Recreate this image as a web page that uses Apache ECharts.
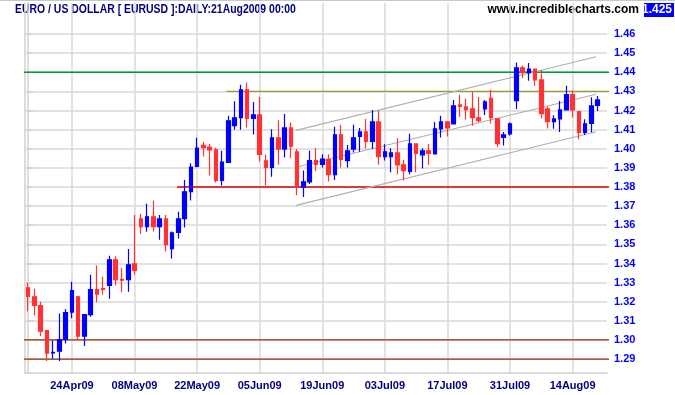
<!DOCTYPE html>
<html><head><meta charset="utf-8">
<script src="https://cdn.jsdelivr.net/npm/echarts@6/dist/echarts.min.js"></script>
<style>html,body{margin:0;padding:0;background:#fff}#c{width:675px;height:395px}</style>
</head><body><div id="c"></div>
<script>
// ---- data ----
const dates = [
 '15Apr09','16Apr09','17Apr09','20Apr09','21Apr09','22Apr09','23Apr09','24Apr09','27Apr09','28Apr09','29Apr09','30Apr09',
 '01May09','04May09','05May09','06May09','07May09','08May09','11May09','12May09','13May09','14May09','15May09','18May09','19May09','20May09','21May09','22May09','25May09','26May09','27May09','28May09','29May09',
 '01Jun09','02Jun09','03Jun09','04Jun09','05Jun09','08Jun09','09Jun09','10Jun09','11Jun09','12Jun09','15Jun09','16Jun09','17Jun09','18Jun09','19Jun09','22Jun09','23Jun09','24Jun09','25Jun09','26Jun09','29Jun09','30Jun09',
 '01Jul09','02Jul09','03Jul09','06Jul09','07Jul09','08Jul09','09Jul09','10Jul09','13Jul09','14Jul09','15Jul09','16Jul09','17Jul09','20Jul09','21Jul09','22Jul09','23Jul09','24Jul09','27Jul09','28Jul09','29Jul09','30Jul09','31Jul09',
 '03Aug09','04Aug09','05Aug09','06Aug09','07Aug09','10Aug09','11Aug09','12Aug09','13Aug09','14Aug09','17Aug09','18Aug09','19Aug09','20Aug09','21Aug09'
];
const opens = [
 1.3273,1.3226,1.3180,1.3049,1.2932,1.2942,1.3004,1.3145,1.3226,1.3020,1.3133,1.3263,
 1.3268,1.3285,1.3419,1.3317,1.3315,1.3398,1.3633,1.3593,1.3644,1.3593,1.3633,1.3478,1.3562,1.3635,1.3776,1.3907,1.4018,1.4008,1.3994,1.3834,1.3928,
 1.4121,1.4163,1.4308,1.4158,1.4177,1.3937,1.3902,1.4057,1.3998,1.4109,1.3984,1.3799,1.3827,1.3938,1.3918,1.3944,1.3865,1.4073,1.3938,1.3998,1.4064,1.4088,
 1.4038,1.4140,1.3958,1.3958,1.3978,1.3916,1.3881,1.4025,1.3968,1.3989,1.3973,1.4104,1.4140,1.4130,1.4229,1.4219,1.4208,1.4161,1.4208,1.4264,1.4156,1.4059,1.4078,
 1.4252,1.4423,1.4398,1.4416,1.4360,1.4208,1.4142,1.4156,1.4203,1.4283,1.4194,1.4085,1.4133,1.4226
];
const closes = [
 1.3228,1.3181,1.3046,1.2931,1.2935,1.3002,1.3143,1.3258,1.3020,1.3133,1.3263,1.3239,
 1.3264,1.3419,1.3315,1.3313,1.3393,1.3364,1.3593,1.3644,1.3593,1.3633,1.3499,1.3560,1.3633,1.3775,1.3904,1.4003,1.4006,1.3994,1.3834,1.3930,1.4146,
 1.4161,1.4308,1.4158,1.4177,1.3970,1.3902,1.4057,1.3998,1.4109,1.4013,1.3799,1.3827,1.3938,1.3918,1.3946,1.3865,1.4073,1.3944,1.3989,1.4057,1.4088,1.4038,
 1.4140,1.3958,1.3984,1.3978,1.3916,1.3886,1.4025,1.3975,1.3989,1.3975,1.4104,1.4140,1.4109,1.4224,1.4221,1.4205,1.4163,1.4147,1.4245,1.4163,1.4027,1.4072,1.4130,
 1.4423,1.4398,1.4416,1.4360,1.4184,1.4142,1.4156,1.4203,1.4283,1.4203,1.4085,1.4130,1.4224,1.4255
];
const lows = [
 1.3150,1.3129,1.3020,1.2890,1.2902,1.2890,1.2982,1.3114,1.2999,1.2968,1.3122,1.3197,
 1.3237,1.3216,1.3285,1.3249,1.3252,1.3341,1.3556,1.3566,1.3567,1.3524,1.3463,1.3426,1.3531,1.3588,1.3729,1.3903,1.3959,1.3860,1.3823,1.3808,1.3926,
 1.4099,1.4099,1.4111,1.4074,1.3933,1.3808,1.3853,1.3916,1.3954,1.3950,1.3757,1.3748,1.3816,1.3883,1.3902,1.3829,1.3837,1.3902,1.3902,1.3980,1.3984,1.4001,
 1.3998,1.3916,1.3938,1.3877,1.3867,1.3834,1.3867,1.3877,1.3897,1.3916,1.3972,1.4059,1.4064,1.4130,1.4167,1.4153,1.4120,1.4139,1.4177,1.4132,1.4010,1.4017,1.4069,
 1.4208,1.4369,1.4356,1.4330,1.4158,1.4106,1.4104,1.4088,1.4203,1.4163,1.4050,1.4072,1.4085,1.4198
];
const highs = [
 1.3299,1.3268,1.3200,1.3052,1.2999,1.3139,1.3162,1.3305,1.3230,1.3135,1.3341,1.3390,
 1.3331,1.3440,1.3438,1.3376,1.3476,1.3653,1.3660,1.3712,1.3728,1.3653,1.3654,1.3567,1.3670,1.3837,1.3924,1.4057,1.4036,1.4025,1.4005,1.3989,1.4172,
 1.4248,1.4334,1.4346,1.4245,1.4271,1.3970,1.4102,1.4149,1.4182,1.4137,1.3999,1.3886,1.3989,1.4003,1.3971,1.3971,1.4115,1.4125,1.4020,1.4125,1.4109,1.4156,
 1.4203,1.4200,1.4024,1.4003,1.4055,1.3942,1.4078,1.4029,1.4003,1.4025,1.4140,1.4172,1.4145,1.4255,1.4282,1.4261,1.4297,1.4271,1.4255,1.4308,1.4160,1.4088,1.4137,
 1.4451,1.4435,1.4449,1.4419,1.4412,1.4221,1.4175,1.4250,1.4330,1.4304,1.4196,1.4154,1.4269,1.4276
];
const xTickIdx = [7,17,27,37,47,57,67,77,87];
const xTickLabels = ['24Apr09','08May09','22May09','05Jun09','19Jun09','03Jul09','17Jul09','31Jul09','14Aug09'];
const yTicks = [1.29,1.30,1.31,1.32,1.33,1.34,1.35,1.36,1.37,1.38,1.39,1.40,1.41,1.42,1.43,1.44,1.45,1.46];
const levelPrices = [1.44, 1.43, 1.38, 1.30, 1.29];
const levelFrom = [-4.5, 31.7, 23.8, -4.5, -4.5];
const levelTo = [93.0, 93.0, 93.0, 93.0, 93.0];
const channelUpper = [[42.8, 1.4096], [90.74, 1.4481]];
const channelMiddle = [[43.28, 1.3907], [90.74, 1.4285]];
const channelLower = [[42.8, 1.3704], [90.74, 1.4089]];
const titleText = 'EURO / US DOLLAR [ EURUSD ]:DAILY:21Aug2009 00:00';
const siteText = 'www.incrediblecharts.com';
const lastPrice = '1.425';

// ---- styles ----
const levelColors = ['#009933', '#999933', '#dd0000', '#993300', '#993300'];
const X_MIN = -0.5, X_MAX = dates.length - 0.5;
const Y_MIN = 1.28273, Y_MAX = 1.47621;

const chart = echarts.init(document.getElementById('c'), null, {renderer: 'canvas'});
const candleData = opens.map((o, i) => [o, closes[i], lows[i], highs[i]]);

const series = [];
series.push({
  type: 'line', xAxisIndex: 1, yAxisIndex: 0, data: [], z: 0, silent: true,
  markLine: {
    z: 0, silent: true, symbol: 'none', animation: false, label: {show: false},
    lineStyle: {color: '#d8d8d8', width: 1.5, type: 'solid'},
    emphasis: {disabled: true},
    data: [...xTickIdx.map(v => ({xAxis: v})), ...yTicks.map(v => ({yAxis: v}))]
  }
});
levelPrices.forEach((p, i) => {
  series.push({
    type: 'line', xAxisIndex: 1, yAxisIndex: 0, symbol: 'none', silent: true, z: 2, clip: false,
    lineStyle: {color: levelColors[i], width: 1.3},
    data: [[levelFrom[i], p], [levelTo[i], p]]
  });
});
[channelUpper, channelMiddle, channelLower].forEach(d => {
  series.push({
    type: 'line', xAxisIndex: 1, yAxisIndex: 0, symbol: 'none', silent: true, z: 2,
    lineStyle: {color: '#b0b0b0', width: 1.2}, data: d
  });
});
series.push({
  type: 'candlestick', xAxisIndex: 0, yAxisIndex: 0, z: 3, barWidth: 4,
  itemStyle: {color: '#0000ff', color0: '#ff3333', borderColor: '#0000ff', borderColor0: '#ff3333', borderWidth: 1.2},
  data: candleData
});

chart.setOption({
  animation: false,
  backgroundColor: '#ffffff',
  grid: {left: 25, right: 68, top: 3, bottom: 22, containLabel: false},
  xAxis: [
    {type: 'category', data: dates, boundaryGap: true, show: false},
    {type: 'value', min: X_MIN, max: X_MAX, position: 'bottom',
     axisLine: {show: true, lineStyle: {color: '#d0d0d0', width: 1.5}},
     axisTick: {show: false}, splitLine: {show: false},
     axisLabel: {customValues: xTickIdx, formatter: v => xTickLabels[xTickIdx.indexOf(v)] || '',
       color: '#000080', fontWeight: 'bold', fontSize: 11, fontFamily: 'Liberation Sans, Arial, sans-serif', margin: 7}}
  ],
  yAxis: [
    {type: 'value', position: 'right', min: Y_MIN, max: Y_MAX, scale: true,
     axisLine: {show: true, lineStyle: {color: '#d0d0d0', width: 1.5}},
     axisTick: {show: true, customValues: yTicks, length: 5, lineStyle: {color: '#d0d0d0', width: 1.5}},
     splitLine: {show: false},
     axisLabel: {customValues: yTicks, formatter: v => v.toFixed(2), color: '#0000ff', fontWeight: 'bold',
       fontSize: 11, fontFamily: 'Liberation Sans, Arial, sans-serif', margin: 7}},
    {type: 'value', position: 'left', min: Y_MIN, max: Y_MAX, scale: true,
     axisLine: {show: true, lineStyle: {color: '#d0d0d0', width: 1.5}},
     axisTick: {show: false}, axisLabel: {show: false}, splitLine: {show: false}}
  ],
  series: series,
  graphic: [
    {type: 'rect', left: 0, top: 0, shape: {width: 675, height: 1}, style: {fill: '#c8c8c8'}, silent: true},
    {type: 'text', x: 15, y: 4, scaleX: 0.87, originX: 0, style: {text: titleText, fill: '#000080',
      font: 'bold 12px "Liberation Sans", Arial, sans-serif'}},
    {type: 'text', right: 36, top: 4, style: {text: siteText, fill: '#000000',
      font: 'bold 12px "Liberation Sans", Arial, sans-serif'}},
    {type: 'rect', right: 1, top: 3, shape: {width: 30, height: 14}, style: {fill: '#0000ff'}},
    {type: 'text', right: 3, top: 4, style: {text: lastPrice, fill: '#ffffff',
      font: 'bold 12px "Liberation Sans", Arial, sans-serif'}}
  ]
});
</script>
</body></html>
